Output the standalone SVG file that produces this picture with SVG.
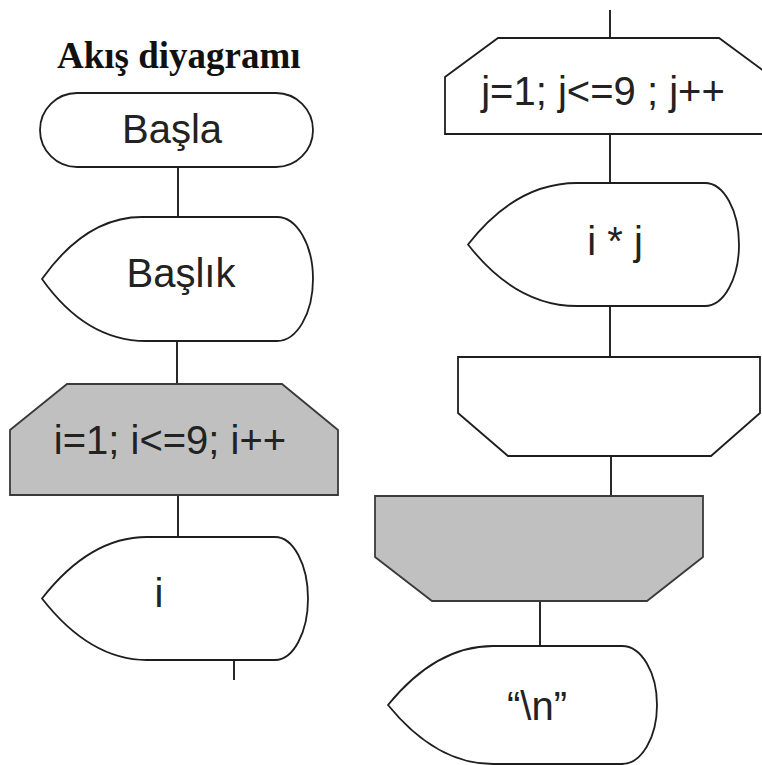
<svg xmlns="http://www.w3.org/2000/svg" width="762" height="765" viewBox="0 0 762 765">
<style>
.s{fill:#fff;stroke:#1e1e1e;stroke-width:1.8}
.g{fill:#c0c0c0;stroke:#3a3a3a;stroke-width:1.8}
.c{stroke:#111;stroke-width:1.8;fill:none}
.t{font-family:"Liberation Sans",Arial,sans-serif;font-size:40px;fill:#222;text-anchor:middle}
.h{font-family:"Liberation Serif","Times New Roman",serif;font-size:37px;font-weight:bold;fill:#111}
</style>
<rect width="762" height="765" fill="#fff"/>
<text class="h" x="57" y="68">Akış diyagramı</text>
<g id="connectors">
<line class="c" x1="178" y1="167" x2="178" y2="217"/>
<line class="c" x1="177" y1="341" x2="177" y2="384"/>
<line class="c" x1="178" y1="495" x2="178" y2="537"/>
<line class="c" x1="234" y1="660" x2="234" y2="680"/>
<line class="c" x1="610" y1="10" x2="610" y2="38"/>
<line class="c" x1="610" y1="134" x2="610" y2="183"/>
<line class="c" x1="610" y1="306" x2="610" y2="357"/>
<line class="c" x1="611" y1="456" x2="611" y2="496"/>
<line class="c" x1="540" y1="601" x2="540" y2="646"/>
</g>
<g id="basla">
<rect class="s" x="40" y="93" width="273" height="74" rx="37" ry="37"/>
<text class="t" x="172" y="143">Başla</text>
</g>
<g id="baslik">
<path class="s" d="M42 279 Q86 217 142 217 L277 217 A36 62 0 0 1 277 341 L146 341 Q86 341 42 279 Z"/>
<text class="t" x="181" y="287">Başlık</text>
</g>
<g id="loop-i">
<polygon class="g" points="67,384 282,384 338,430 338,495 10,495 10,430"/>
<text class="t" x="170" y="454">i=1; i&lt;=9; i++</text>
</g>
<g id="out-i">
<path class="s" d="M42 598.5 Q90 537 147 537 L275 537 A33 61.5 0 0 1 275 660 L147 660 Q90 660 42 598.5 Z"/>
<text class="t" x="159" y="607">i</text>
</g>
<g id="loop-j">
<polygon class="s" points="498,38 719,38 772,77 772,134 445,134 445,77"/>
<text class="t" x="603" y="105">j=1; j&lt;=9 ; j++</text>
</g>
<g id="out-ij">
<path class="s" d="M468 244.5 Q516 183 577 183 L705 183 A34 61.5 0 0 1 705 306 L577 306 Q516 306 468 244.5 Z"/>
<text class="t" x="615" y="255">i * j</text>
</g>
<g id="end-j">
<polygon class="s" points="458,357 760,357 760,413 711,456 508,456 458,413"/>
</g>
<g id="end-i">
<polygon class="g" points="375,496 703,496 703,557 647,601 432,601 375,557"/>
</g>
<g id="out-n">
<path class="s" d="M388 705 Q436 646 493 646 L622 646 A35 59 0 0 1 622 764 L493 764 Q436 764 388 705 Z"/>
<text class="t" x="537" y="720">“\n”</text>
</g>
</svg>
